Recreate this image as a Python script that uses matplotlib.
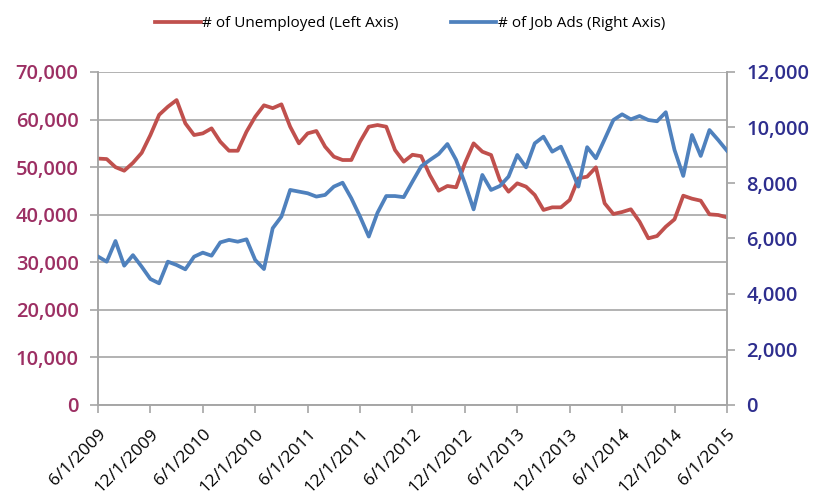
import matplotlib
matplotlib.use("Agg")
import matplotlib.pyplot as plt
import pandas as pd

dates = pd.date_range("2009-06-01", "2015-06-01", freq="MS")

unemployed = [51800, 51700, 50000, 49250, 50900, 53000, 56750, 61000, 62700, 64100,
              59200, 56750, 57100, 58150, 55350, 53450, 53450, 57450, 60600, 63000,
              62400, 63200, 58500, 55000, 57100, 57600, 54300, 52200, 51500, 51500,
              55350, 58500, 58850, 58500, 53600, 51150, 52600, 52300, 48300, 45050,
              46040, 45760, 50800, 55000, 53250, 52550, 47300, 44840, 46600, 45900,
              44150, 41000, 41550, 41550, 43100, 47650, 48000, 49960, 42400, 40150,
              40570, 41140, 38530, 35040, 35520, 37480, 39030, 44000, 43370, 42950,
              40080, 39940, 39450]

job_ads = [5350, 5165, 5910, 5020, 5400, 4985, 4540, 4385, 5165, 5045,
           4890, 5345, 5490, 5380, 5860, 5950, 5885, 5970, 5225, 4900,
           6370, 6790, 7750, 7690, 7630, 7510, 7570, 7870, 8010, 7450,
           6790, 6070, 6930, 7530, 7530, 7490, 8050, 8600, 8830, 9045,
           9405, 8830, 7990, 7050, 8290, 7750, 7890, 8230, 9010, 8565,
           9430, 9670, 9130, 9310, 8620, 7870, 9290, 8890, 9575, 10270,
           10475, 10295, 10415, 10270, 10225, 10550, 9190, 8255, 9730, 8975,
           9910, 9550, 9165]

tick_labels = ["6/1/2009", "12/1/2009", "6/1/2010", "12/1/2010", "6/1/2011",
               "12/1/2011", "6/1/2012", "12/1/2012", "6/1/2013", "12/1/2013",
               "6/1/2014", "12/1/2014", "6/1/2015"]

left_ticks = [0, 10000, 20000, 30000, 40000, 50000, 60000, 70000]
right_ticks = [0, 2000, 4000, 6000, 8000, 10000, 12000]

red = "#C0504D"
blue = "#4F81BD"
left_col = "#9C2F63"
right_col = "#2E2E8E"
grid_col = "#A6A6A6"

plt.rcParams['font.family'] = ['Open Sans', 'DejaVu Sans']

fig = plt.figure(figsize=(8.2, 5.0), dpi=100)
ax = fig.add_axes([0.1195, 0.19, 0.767, 0.666])
ax2 = ax.twinx()

x = list(range(len(dates)))
l1, = ax.plot(x, unemployed, color=red, lw=2.7, solid_joinstyle='round', zorder=3)
l2, = ax2.plot(x, job_ads, color=blue, lw=2.7, solid_joinstyle='round', zorder=3)

ax.set_xlim(0, len(dates) - 1)
ax.set_ylim(0, 70000)
ax2.set_ylim(0, 12000)

ax.set_yticks(left_ticks)
ax.set_yticklabels([f"{v:,}" if v else "0" for v in left_ticks],
                   color=left_col, fontsize=14.5, fontweight='semibold')
ax2.set_yticks(right_ticks)
ax2.set_yticklabels([f"{v:,}" if v else "0" for v in right_ticks],
                    color=right_col, fontsize=14.5, fontweight='semibold')

xt = [i for i, d in enumerate(dates) if d.month in (6, 12)]
ax.set_xticks(xt)
ax.set_xticklabels(tick_labels, rotation=45, ha='right', rotation_mode='anchor',
                   fontsize=12.5, color='black')

ax.yaxis.grid(True, color=grid_col, lw=1.2)
ax.set_axisbelow(True)
for a in (ax, ax2):
    a.spines['top'].set_visible(False)
    for s in ('left', 'right', 'bottom'):
        a.spines[s].set_color(grid_col)
        a.spines[s].set_linewidth(1.2)
    a.tick_params(axis='both', colors=grid_col, length=6, width=1.2)
ax.tick_params(axis='y', labelcolor=left_col, pad=8)
ax2.tick_params(axis='y', labelcolor=right_col, pad=8)
ax.tick_params(axis='x', labelcolor='black', pad=9)

fig.legend([l1, l2], ["# of Unemployed (Left Axis)", "# of Job Ads (Right Axis)"],
           loc='upper center', bbox_to_anchor=(0.5, 0.995), ncol=2, frameon=False,
           fontsize=11, handlelength=3.0, handletextpad=0.1, columnspacing=3.4)

fig.savefig("out.png", dpi=100)
